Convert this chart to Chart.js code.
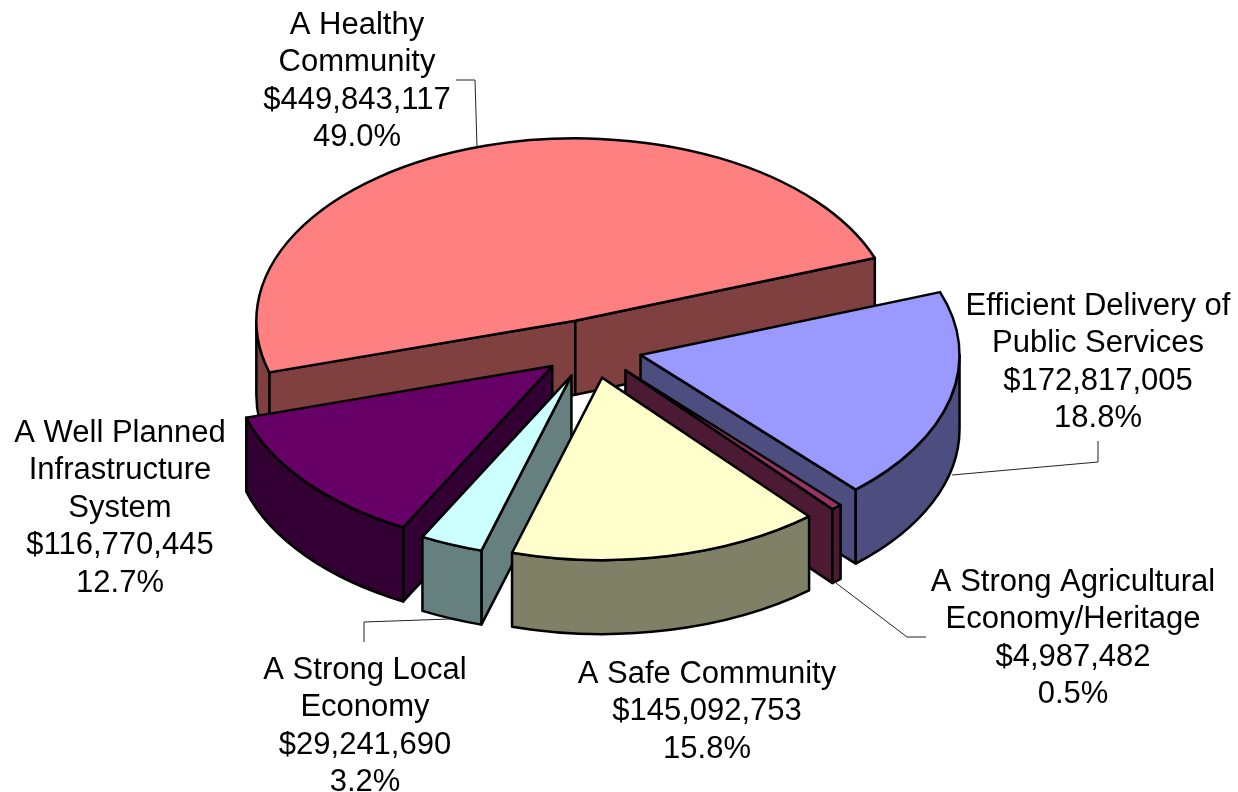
<!DOCTYPE html>
<html>
<head>
<meta charset="utf-8">
<title>Budget by priority</title>
<script src="https://cdn.jsdelivr.net/npm/chart.js@4"></script>
<style>
  html, body { margin: 0; padding: 0; background: #fff; overflow: hidden; }
  canvas { display: block; }
</style>
</head>
<body>
<canvas id="pie" width="1238" height="792"></canvas>
<script>
// values
const categories = ['A Healthy|Community', 'Efficient Delivery of|Public Services', 'A Strong Agricultural|Economy/Heritage', 'A Safe Community', 'A Strong Local|Economy', 'A Well Planned|Infrastructure|System'];
const amounts = [449843117, 172817005, 4987482, 145092753, 29241690, 116770445];
const shares = ['49.0%', '18.8%', '0.5%', '15.8%', '3.2%', '12.7%'];

// style
const topColors = ['#FF8080', '#9999FF', '#993366', '#FFFFCC', '#CCFFFF', '#660066'];
const sideColors = ['#804040', '#4D4D80', '#4D1A33', '#808066', '#668080', '#330033'];
const explode = [50, 51, 52, 53, 52, 50];
const labelX = [357, 1098, 1073, 707, 365, 120];
const labelY = [25, 306, 582, 674, 670, 433];
const leaders = [
  [[456, 80], [475, 80], [477, 147]],
  [[952, 475], [1098, 462], [1098, 441]],
  [[836, 583], [907, 637], [926, 637]],
  [],
  [[364, 642], [364, 622], [450, 619]],
  []
];

const SQUASH = 0.572;
const DEPTH = 74;
const LINE_H = 37.6;

function fillStroke(ctx, color) {
  ctx.fillStyle = color;
  ctx.fill();
  ctx.stroke();
}

function drawFace(ctx, ax, ay, r, a, color) {
  const ex = ax + Math.cos(a) * r, ey = ay + Math.sin(a) * r * SQUASH;
  ctx.beginPath();
  ctx.moveTo(ax, ay);
  ctx.lineTo(ex, ey);
  ctx.lineTo(ex, ey + DEPTH);
  ctx.lineTo(ax, ay + DEPTH);
  ctx.closePath();
  fillStroke(ctx, color);
}

// the rim only shows on the front half of the ellipse
function drawRim(ctx, ax, ay, r, start, end, color) {
  [-2 * Math.PI, 0].forEach(turn => {
    const a0 = Math.max(start, turn), a1 = Math.min(end, turn + Math.PI);
    if (a1 <= a0) return;
    ctx.beginPath();
    ctx.ellipse(ax, ay, r, r * SQUASH, 0, a0, a1);
    ctx.ellipse(ax, ay + DEPTH, r, r * SQUASH, 0, a1, a0, true);
    ctx.closePath();
    fillStroke(ctx, color);
  });
}

const pie3d = {
  id: 'pie3d',
  beforeDatasetsDraw(chart) {
    const ctx = chart.ctx;
    const arcs = chart.getDatasetMeta(0).data;
    const mid = arcs.map(el => (el.startAngle + el.endAngle) / 2);
    const order = arcs.map((el, i) => i).sort((a, b) => Math.sin(mid[a]) - Math.sin(mid[b]));

    order.forEach(i => {
      const el = arcs[i];
      const r = el.outerRadius, start = el.startAngle, end = el.endAngle;
      const ax = el.x + Math.cos(mid[i]) * explode[i];
      const ay = el.y + Math.sin(mid[i]) * explode[i] * SQUASH;

      ctx.save();
      ctx.strokeStyle = '#000';
      ctx.lineWidth = 2.5;
      ctx.lineJoin = 'round';
      if (-Math.cos(start) > 0) drawFace(ctx, ax, ay, r, start, sideColors[i]);
      if (Math.cos(end) > 0) drawFace(ctx, ax, ay, r, end, sideColors[i]);
      drawRim(ctx, ax, ay, r, start, end, sideColors[i]);

      // top of the slice: the library's arc, flattened
      ctx.save();
      ctx.translate(ax, ay);
      ctx.scale(1, SQUASH);
      ctx.translate(-el.x, -el.y);
      el.draw(ctx);
      ctx.restore();

      ctx.beginPath();
      ctx.moveTo(ax, ay);
      ctx.ellipse(ax, ay, r, r * SQUASH, 0, start, end);
      ctx.closePath();
      ctx.stroke();
      ctx.restore();
    });
    return false;
  },
  afterDraw(chart) {
    const ctx = chart.ctx;
    ctx.save();
    ctx.strokeStyle = '#222';
    ctx.lineWidth = 1;
    leaders.forEach(pts => {
      if (!pts.length) return;
      ctx.beginPath();
      pts.forEach((p, k) => k ? ctx.lineTo(p[0], p[1]) : ctx.moveTo(p[0], p[1]));
      ctx.stroke();
    });

    ctx.fillStyle = '#000';
    ctx.font = '31px "Liberation Sans", Arial, sans-serif';
    ctx.textAlign = 'center';
    ctx.textBaseline = 'middle';
    categories.forEach((name, i) => {
      const lines = name.split('|').concat('$' + amounts[i].toLocaleString('en-US'), shares[i]);
      lines.forEach((line, k) => ctx.fillText(line, labelX[i], labelY[i] + k * LINE_H));
    });
    ctx.restore();
  }
};

new Chart(document.getElementById('pie'), {
  type: 'pie',
  data: {
    labels: categories.map(c => c.replace(/\|/g, ' ')),
    datasets: [{ data: amounts, backgroundColor: topColors, borderWidth: 0, radius: 319 }]
  },
  options: {
    responsive: false,
    animation: false,
    events: [],
    rotation: -106.4,
    layout: { padding: { left: 0, right: 56, top: 0, bottom: 96 } },
    plugins: { legend: { display: false }, tooltip: { enabled: false } }
  },
  plugins: [pie3d]
});
</script>
</body>
</html>
